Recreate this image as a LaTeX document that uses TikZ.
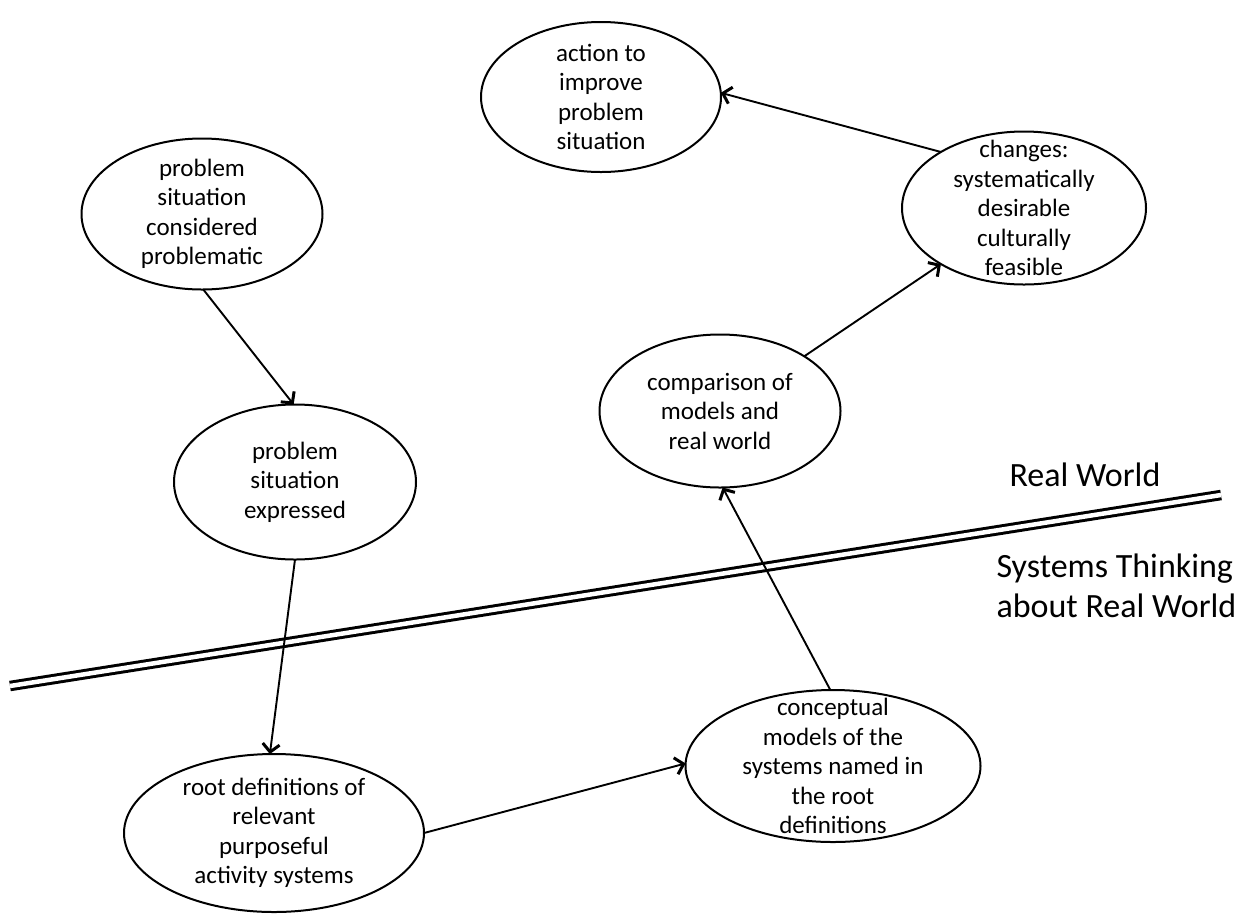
\documentclass[tikz,border=0pt]{standalone}
\usepackage{fontspec}
\setmainfont{Carlito}
\usetikzlibrary{arrows.meta,shapes.geometric}
\tikzset{
  stage/.style={draw, ellipse, line width=2pt, inner xsep=0pt, inner ysep=-60pt,
    outer sep=0pt, align=center, font=\fontsize{25}{29.5}\selectfont},
  flow/.style={line width=1.9pt, -{Straight Barb[length=8pt,width=17pt,line width=3pt]}},
  divider/.style={line width=3pt, double, double distance=4.5pt},
  region/.style={align=left, font=\fontsize{34}{40}\selectfont}
}
\begin{document}
\begin{tikzpicture}[x=1pt,y=-1pt]
\useasboundingbox (0,0) rectangle (1247,914);

% soft systems stages
\node[stage, minimum width=240pt, minimum height=150pt] (act) at (601,97)
  {action to\\improve\\problem\\situation};
\node[stage, minimum width=241pt, minimum height=151pt] (prob) at (202,214)
  {problem\\situation\\considered\\problematic};
\node[stage, minimum width=244pt, minimum height=153pt] (chg) at (1024,208)
  {changes:\\systematically\\desirable\\culturally\\feasible};
\node[stage, minimum width=241pt, minimum height=153pt] (cmp) at (720,411)
  {comparison of\\models and\\real world};
\node[stage, minimum width=242pt, minimum height=155pt] (expr) at (295,482)
  {problem\\situation\\expressed};
\node[stage, minimum width=300pt, minimum height=158pt] (root) at (274,833)
  {root definitions of\\relevant\\purposeful\\activity systems};
\node[stage, minimum width=295pt, minimum height=152pt] (cm) at (833,766)
  {conceptual\\models of the\\systems named in\\the root\\definitions};

% boundary between the real world and systems thinking
\coordinate (bl) at (10,686);
\coordinate (br) at (1221,495);
\draw[divider] (bl) -- (br);
\node[region, anchor=base west] (rw) at (1006,486) {Real World};
\node[region, anchor=north west] (st) at (993,550) {Systems Thinking\\about Real World};

% transitions
\draw[flow] (prob.-89) -- (expr.91);
\draw[flow] (expr.-90) -- (root.93);
\draw[flow] (root.0) -- (cm.179);
\draw[flow] (cm.92) -- (cmp.-88);
\draw[flow] (cmp.33) -- (chg.214);
\draw[flow] (chg.146) -- (act.2);
\end{tikzpicture}
\end{document}
